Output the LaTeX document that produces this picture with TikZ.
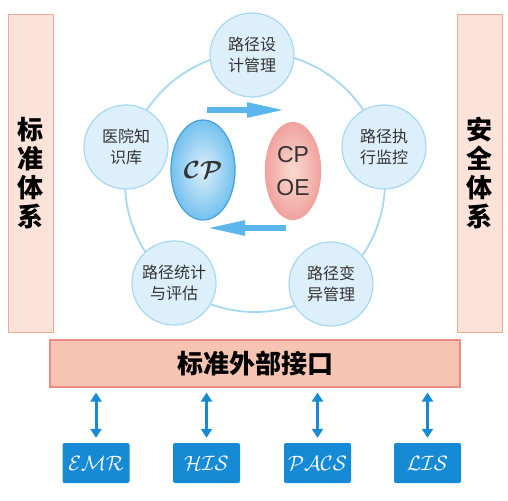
\documentclass[tikz,border=0pt]{standalone}
\usepackage{amsmath,amssymb}
\usepackage{fontspec}
\newfontfamily\cjk{Noto Sans CJK SC}
\newfontfamily\latin{Liberation Sans}
\usetikzlibrary{arrows.meta,positioning,shapes.geometric}

\definecolor{barfill}{HTML}{FCE3DA}
\definecolor{barline}{HTML}{F2A896}
\definecolor{ifacefill}{HTML}{F7C4B3}
\definecolor{ifaceline}{HTML}{EC8A86}
\definecolor{cirfill}{HTML}{DDEFFA}
\definecolor{cirline}{HTML}{A6D8F2}
\definecolor{flowblue}{HTML}{5BB6EC}
\definecolor{sysblue}{HTML}{178AD6}
\definecolor{txtgray}{HTML}{333333}

\begin{document}
\begin{tikzpicture}[x=1pt,y=-1pt,
  sidebar/.style={draw=barline,line width=1pt,fill=barfill,minimum width=45pt,minimum height=317pt,
    align=center,font=\cjk\bfseries\fontsize{26}{29}\selectfont},
  iface/.style={draw=ifaceline,line width=1.2pt,fill=ifacefill,minimum width=410pt,minimum height=47pt,
    font=\cjk\bfseries\fontsize{26}{28}\selectfont},
  module/.style={circle,draw=cirline,line width=1.2pt,fill=cirfill,minimum size=84pt,inner sep=0pt,
    align=center,text=txtgray,font=\cjk\fontsize{16}{21}\selectfont},
  ring/.style={draw=cirline,line width=1.8pt},
  flow/.style={draw=flowblue,line width=5.5pt,-{Triangle[length=38pt,width=14pt]}},
  sysbox/.style={fill=sysblue,rounded corners=2pt,minimum width=67pt,minimum height=40pt,
    text=white,font=\fontsize{21}{24}\selectfont},
  link/.style={draw=sysblue,line width=3pt,{Triangle[length=9pt,width=11pt]}-{Triangle[length=9pt,width=11pt]},
    shorten <=5pt,shorten >=5pt}]
  \useasboundingbox (0,0) rectangle (508,500);

  % side frames
  \node[sidebar] (stdsys) at (30.5,173.5) {标\\准\\体\\系};
  \node[sidebar] (safesys) at (479.5,173.5) {安\\全\\体\\系};

  % ring of modules
  \draw[ring] (255,182) circle (130);
  \node[module] (design) at (252,55) {路径设\\计管理};
  \node[module] (monitor) at (384,147) {路径执\\行监控};
  \node[module] (variance) at (331,284) {路径变\\异管理};
  \node[module] (stats) at (174,283) {路径统计\\与评估};
  \node[module] (knowledge) at (126,147) {医院知\\识库};

  % core
  \node[ellipse,draw=sysblue!80,line width=1.2pt,inner color=cirfill,outer color=flowblue!85,
    minimum width=56pt,minimum height=100pt,text=txtgray] (cp) at (203,170)
    {\fontsize{23}{26}\selectfont$\boldsymbol{\mathcal{CP}}$};
  \node[ellipse,inner color=ifacefill!60,outer color=ifaceline!80,minimum width=55pt,minimum height=98pt,
    align=center,text=txtgray,font=\latin\fontsize{23}{33}\selectfont] (cpoe) at (293,171) {CP\\OE};
  \coordinate (fwdA) at (207,110);
  \coordinate (fwdB) at (285,110);
  \coordinate (backA) at (286,228);
  \coordinate (backB) at (207,228);
  \draw[flow] (fwdA) -- (fwdB);
  \draw[flow] (backA) -- (backB);

  % external interface
  \node[iface] (ext) at (255,363.5) {标准外部接口};
  \node[sysbox] (emr) at (96,463) {$\mathcal{EMR}$};
  \node[sysbox] (his) at (206.5,463) {$\mathcal{HIS}$};
  \node[sysbox] (pacs) at (317.5,463) {$\mathcal{PACS}$};
  \node[sysbox] (lis) at (427.5,463) {$\mathcal{LIS}$};
  \draw[link] (ext.south -| emr.north) -- (emr.north);
  \draw[link] (ext.south -| his.north) -- (his.north);
  \draw[link] (ext.south -| pacs.north) -- (pacs.north);
  \draw[link] (ext.south -| lis.north) -- (lis.north);
\end{tikzpicture}
\end{document}
